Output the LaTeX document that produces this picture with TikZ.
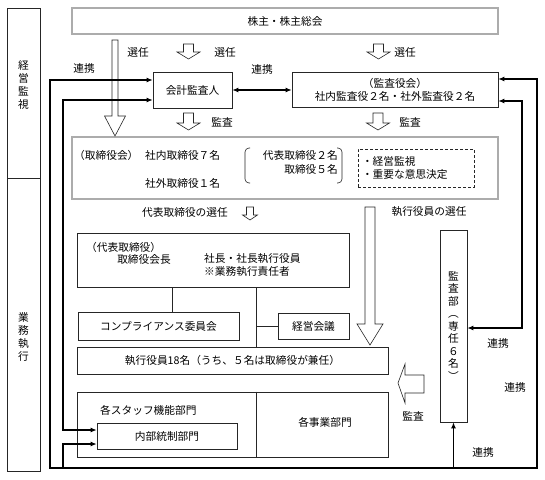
\documentclass[tikz,border=0pt]{standalone}
\usepackage{fontspec}
\setmainfont{Noto Sans CJK JP}
\usepackage{tikz}
\usetikzlibrary{arrows.meta}
\usetikzlibrary{positioning,calc}
\tikzset{
    every node/.style={font=\fontsize{10.7pt}{13pt}\selectfont, inner sep=0pt},
    box/.style={
        draw=black!85,
        line width=0.6pt
    },
    dblbox/.style={
        draw=black!70,
        line width=0.7pt,
        double=gray!65,
        double distance=1.2pt
    },
    hollow/.style={
        draw=black!85,
        fill=white,
        line width=0.6pt
    },
    link/.style={
        line width=1.3pt,
        {Latex[length=6pt, width=5pt]}-{Latex[length=6pt, width=5pt]}
    },
    uplink/.style={
        line width=1.3pt,
        -{Latex[length=6pt, width=5pt]}
    }
}
% hollow block arrow: x, top, tip, shaft half, head half, head length
\newcommand{\hollowdown}[6]{%
  \draw[hollow] ({#1-#4},#2) -- ({#1+#4},#2) -- ({#1+#4},{#3-#6}) -- ({#1+#5},{#3-#6})
    -- (#1,#3) -- ({#1-#5},{#3-#6}) -- ({#1-#4},{#3-#6}) -- cycle;}

\begin{document}
\begin{tikzpicture}[x=1pt, y=-1pt]
  \useasboundingbox (0,0) rectangle (545,479);

  % Side bar
  \node[box, minimum width=33pt, minimum height=463pt] (sidebar) at (23.5,239.5) {};
  \coordinate (sdiv) at (7,178);
  \draw[box] (sdiv) -- (sdiv -| sidebar.east);
  \node[align=center] (supvlabel) at (23.5,85) {経\\営\\監\\視};
  \node[align=center] (execlabel) at (23.5,337) {業\\務\\執\\行};

  % Governance boxes
  \node[dblbox, minimum width=426pt, minimum height=26pt] (share) at (285,21) {株主・株主総会};
  \node[box, minimum width=79pt, minimum height=36pt] (acct) at (192.5,90) {会計監査人};
  \node[box, minimum width=206pt, minimum height=35pt, align=center] (kansa) at (395,89.5) {（監査役会）\\社内監査役２名・社外監査役２名};

  % Board of directors
  \node[dblbox, minimum width=426pt, minimum height=62pt] (board) at (285,168) {};
  \node[anchor=west] (bdname) at (74,155) {（取締役会）};
  \node[anchor=west] (bdin) at (145,155) {社内取締役７名};
  \node[anchor=west] (bdout) at (145,183) {社外取締役１名};
  \node[anchor=east, align=right, font=\fontsize{10.7pt}{14pt}\selectfont] (bdrep) at (338,162) {代表取締役２名\\取締役５名};
  \draw[box, rounded corners=4pt] (250,148) -- (245,148) -- (245,183) -- (250,183);
  \draw[box, rounded corners=4pt] (337,148) -- (342,148) -- (342,183) -- (337,183);
  \node[draw=black!85, line width=0.6pt, dash pattern=on 3pt off 2pt, text width=108pt, minimum height=38pt,
        inner sep=4pt, align=left, font=\fontsize{10.7pt}{12.5pt}\selectfont] (focus) at (416,168) {・経営監視\\・重要な意思決定};

  % Executive side
  \node[box, minimum width=272pt, minimum height=54pt] (rep) at (213,260) {};
  \node[anchor=west] (reptitle) at (86,247) {（代表取締役）};
  \node (chair) at (144,259) {取締役会長};
  \node[anchor=west, align=left] (pres) at (204,265.5) {社長・社長執行役員\\※業務執行責任者};
  \node[box, minimum width=161pt, minimum height=28pt] (comp) at (158.5,326) {コンプライアンス委員会};
  \node[box, minimum width=71pt, minimum height=26pt] (mgmt) at (313.5,326) {経営会議};
  \node[box, minimum width=311pt, minimum height=27pt] (exec) at (232.5,360.5) {執行役員18名（うち、５名は取締役が兼任）};
  \node[box, minimum width=311pt, minimum height=65pt] (depts) at (232.5,424.5) {};
  \node[anchor=west] (staff) at (100,410) {各スタッフ機能部門};
  \node[box, minimum width=140pt, minimum height=26pt] (ictrl) at (167,436) {内部統制部門};
  \node (biz) at (325,422) {各事業部門};
  \node[box, minimum width=27pt, minimum height=192pt, align=center,
        font=\fontsize{10.7pt}{12.5pt}\selectfont] (audit) at (453.5,326) {監\\査\\部\\︵\\専\\任\\６\\名\\︶};

  % Org lines
  \draw[box] ([xshift=13.5pt]comp.north) -- ([xshift=13.5pt]comp.north |- rep.south);
  \draw[box] ([xshift=23.5pt]exec.north) -- ([xshift=23.5pt]exec.north |- rep.south);
  \draw[box] (mgmt.west) -- ++(-22,0);
  \draw[box] ([xshift=23.5pt]depts.north) -- ([xshift=23.5pt]depts.south);

  % Hollow arrows
  \hollowdown{115}{40}{136}{3}{10.5}{20}
  \hollowdown{188.5}{44}{59}{5}{11.5}{7}
  \hollowdown{378.5}{44}{59}{5}{11.5}{7}
  \hollowdown{188.5}{113}{130}{5}{11.5}{7}
  \hollowdown{378}{113}{130}{5}{11.5}{7}
  \hollowdown{250}{207}{220}{3.5}{7.5}{5}
  \hollowdown{370}{207}{345}{5}{13}{21}
  \draw[hollow] (398,383) -- (405,364) -- (405,375) -- (424,375) -- (424,393) -- (405,393) -- (405,403) -- cycle;

  % Arrow labels
  \node (sel1) at (138,52) {選任};
  \node (sel2) at (225,52) {選任};
  \node (sel3) at (405,52) {選任};
  \node (aud1) at (222,122) {監査};
  \node (aud2) at (410,122) {監査};
  \node (aud3) at (413,416) {監査};
  \node (repsel) at (185,212) {代表取締役の選任};
  \node (execsel) at (429,212) {執行役員の選任};

  % Cooperation links
  \coordinate (ol) at (50,468);
  \coordinate (or) at (537,468);
  \coordinate (il) at (63,468);
  \coordinate (inL) at (63,430);
  \coordinate (inR) at (522,328);
  \draw[link] (acct.east) -- (acct.east -| kansa.west);
  \draw[link] ([yshift=10pt]acct.west) -| (ol) -- (or) |- ([yshift=10.5pt]kansa.east);
  \draw[uplink] (audit.south |- ol) -- (audit.south);
  \draw[uplink] (il) |- ([yshift=-8pt]ictrl.west);
  \draw[link] ([yshift=-10pt]acct.west) -| (inL) -- (inL -| ictrl.west);
  \draw[link] ([yshift=-11.5pt]kansa.east) -| (inR) -- (inR -| audit.east);

  \node (co1) at (84,68) {連携};
  \node (co2) at (262,69) {連携};
  \node (co3) at (498,343) {連携};
  \node (co4) at (515,387) {連携};
  \node (co5) at (483,452) {連携};
\end{tikzpicture}
\end{document}
